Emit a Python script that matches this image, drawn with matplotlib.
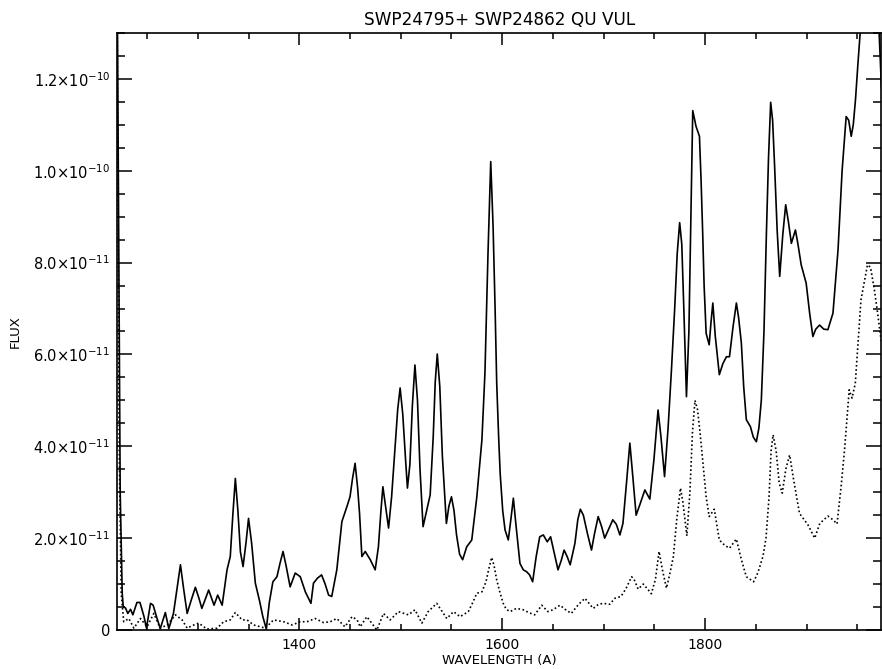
import matplotlib
matplotlib.use("Agg")
import matplotlib.pyplot as plt
from matplotlib.ticker import FixedLocator, MultipleLocator, FuncFormatter

# wavelength (A) and flux (units of 1e-11)
wave_solid = [
    1220.6, 1223.5, 1225.5, 1226.5, 1228.7, 1231, 1233.7, 1236, 1240, 1243, 1247, 1249.4,
    1253.4, 1256, 1259.3, 1263, 1268, 1271.4, 1276, 1279.5, 1282.9, 1286, 1289.5, 1293.5,
    1297.6, 1301, 1304, 1310.7, 1316, 1319.6, 1324, 1328.8, 1332, 1334.5, 1337, 1339.5,
    1342, 1344.6, 1347.5, 1350, 1353, 1356.7, 1361, 1364, 1367.5, 1370.5, 1374, 1378,
    1381, 1384, 1387, 1391, 1396, 1401, 1406, 1411.5, 1414, 1418, 1422, 1425.5, 1428.9,
    1432, 1437, 1442, 1447, 1450, 1452.5, 1455, 1457.5, 1459.4, 1461.7, 1465, 1470, 1474.8,
    1478, 1480.5, 1482.4, 1485, 1488, 1491, 1494.5, 1497, 1499.4, 1502, 1504.5, 1506.6,
    1509, 1511.5, 1514, 1516.5, 1519, 1522, 1525, 1529, 1532, 1534, 1536, 1538.5, 1541,
    1545, 1547.5, 1550, 1552.5, 1555, 1558, 1561, 1565, 1570, 1575, 1580, 1583, 1586,
    1588.7, 1591, 1593, 1594.6, 1596.5, 1598, 1600.5, 1602.8, 1606, 1608.5, 1611, 1613.5,
    1617.5, 1620.8, 1624, 1627, 1630, 1633.5, 1637, 1640.5, 1644.4, 1647.7, 1651, 1655,
    1658, 1661, 1664, 1667, 1671.7, 1674.5, 1677, 1680, 1684, 1688, 1691, 1694.6, 1698,
    1701, 1705, 1709, 1712.5, 1716, 1719, 1722.5, 1725.8, 1728.5, 1732, 1736, 1740.6,
    1745.5, 1749.5, 1753.6, 1756.5, 1760, 1763.5, 1766.8, 1770, 1772.5, 1774.9, 1777, 1779,
    1781.6, 1784, 1786, 1787.8, 1791, 1794.4, 1796, 1797.6, 1799, 1801, 1804, 1805.8,
    1807.6, 1810, 1814, 1817.5, 1821, 1824, 1827.5, 1830.8, 1833, 1835.7, 1838, 1840.6,
    1844.6, 1847.5, 1850.5, 1853, 1855.4, 1858, 1860.4, 1862.5, 1864.6, 1866.5, 1868.5,
    1871, 1873.5, 1876.5, 1879.4, 1882, 1885, 1889, 1891.5, 1894.7, 1899.6, 1903, 1906.2,
    1909, 1912.8, 1917, 1921, 1926, 1931, 1935, 1939, 1941.5, 1944, 1946, 1948.2, 1950.5,
    1952.8, 1956, 1962, 1968, 1971.5, 1973.8,
]
flux_solid = [
    14.0, 3.0, 0.8, 0.51, 0.48, 0.36, 0.45, 0.33, 0.6, 0.6, 0.29, 0.04,
    0.58, 0.54, 0.29, 0.03, 0.38, 0.03, 0.36, 0.9, 1.42, 0.9, 0.36, 0.65,
    0.93, 0.7, 0.47, 0.87, 0.54, 0.76, 0.54, 1.31, 1.6, 2.5, 3.3, 2.6,
    1.7, 1.38, 1.9, 2.43, 1.9, 1.02, 0.62, 0.3, 0.02, 0.6, 1.05, 1.16,
    1.45, 1.71, 1.4, 0.94, 1.24, 1.16, 0.83, 0.58, 1.02, 1.13, 1.2, 1.0, 0.76,
    0.73, 1.31, 2.36, 2.69, 2.9, 3.3, 3.63, 3.1, 2.54, 1.6, 1.71, 1.53, 1.31,
    1.81, 2.6, 3.12, 2.7, 2.22, 2.9, 3.99, 4.8, 5.27, 4.7, 3.8, 3.09,
    3.6, 4.9, 5.77, 5.0, 3.5, 2.25, 2.55, 2.94, 4.2, 5.4, 6.01, 5.3, 3.8,
    2.32, 2.7, 2.9, 2.6, 2.07, 1.65, 1.53, 1.81, 1.96, 2.9, 4.14, 5.6, 8.2,
    10.2, 8.8, 7.0, 5.37, 4.2, 3.41, 2.6, 2.18, 1.96, 2.4, 2.87, 2.3,
    1.45, 1.31, 1.27, 1.2, 1.05, 1.6, 2.03, 2.07, 1.92, 2.03, 1.7, 1.31,
    1.5, 1.74, 1.6, 1.42, 1.89, 2.4, 2.63, 2.5, 2.1, 1.74, 2.1, 2.47, 2.25,
    2.0, 2.2, 2.4, 2.3, 2.07, 2.32, 3.2, 4.07, 3.4, 2.5, 2.75, 3.05,
    2.85, 3.7, 4.79, 4.2, 3.34, 4.4, 5.66, 7.0, 8.2, 8.87, 8.4, 7.0,
    5.08, 6.5, 9.0, 11.31, 10.97, 10.75, 9.8, 8.64, 7.5, 6.46, 6.21, 6.7,
    7.12, 6.4, 5.56, 5.8, 5.95, 5.95, 6.6, 7.12, 6.8, 6.25, 5.3, 4.58,
    4.43, 4.2, 4.10, 4.4, 5.01, 6.5, 8.64, 10.3, 11.49, 11.1, 10.09,
    8.7, 7.70, 8.6, 9.26, 8.9, 8.42, 8.71, 8.4, 7.95, 7.55, 6.9, 6.39,
    6.55, 6.64, 6.55, 6.54, 6.90, 8.28, 10.0, 11.18, 11.1, 10.75, 11.0, 11.55, 12.3,
    13.0, 13.8, 14.3, 13.8, 13.0, 11.8,
]

wave_dot = [
    1220.6, 1222.5, 1224.5, 1227, 1232, 1237, 1243.5, 1250, 1256.6, 1263, 1269.8, 1278,
    1284.5, 1289.5, 1295, 1300.9, 1309, 1319, 1325.5, 1332, 1337, 1343.6, 1348.5, 1355,
    1366.5, 1374.7, 1384.5, 1393, 1401, 1407.6, 1415.7, 1424, 1430.5, 1437, 1445, 1452,
    1457, 1460, 1466.6, 1476.5, 1483, 1489.6, 1497.7, 1507.6, 1514, 1520.8, 1527, 1535.5,
    1545.4, 1552, 1558.5, 1566.6, 1571, 1575, 1580, 1584, 1587, 1589.6, 1592, 1594.6,
    1598, 1601, 1604, 1607.7, 1614, 1620.8, 1626, 1632, 1639, 1645, 1650, 1657, 1662,
    1668, 1675, 1681.5, 1689.7, 1695, 1699.5, 1706, 1711, 1717, 1722, 1727.5, 1730,
    1734, 1739, 1743, 1747, 1751, 1754.6, 1758, 1761.9, 1765, 1768.7, 1772, 1775.7,
    1778, 1782, 1785, 1787.5, 1790, 1792.5, 1795, 1798, 1801, 1804, 1809, 1814, 1819,
    1824, 1830.8, 1835.5, 1840.6, 1847.8, 1852, 1857, 1860, 1863, 1865, 1867, 1870,
    1873, 1876, 1879.5, 1883.3, 1887, 1893, 1901.3, 1908, 1913, 1921, 1926, 1930,
    1934, 1937.4, 1942, 1944.8, 1948, 1953.6, 1960, 1963, 1966.8, 1970, 1973.8,
]
flux_dot = [
    13.0, 4.0, 0.8, 0.18, 0.25, 0.04, 0.25, 0.07, 0.36, 0.04, 0.11, 0.33,
    0.22, 0.04, 0.1, 0.15, 0.02, 0.04, 0.18, 0.22, 0.38, 0.22, 0.22, 0.11,
    0.04, 0.22, 0.18, 0.11, 0.18, 0.18, 0.25, 0.16, 0.18, 0.25, 0.07, 0.29,
    0.22, 0.07, 0.29, 0.0, 0.36, 0.22, 0.40, 0.33, 0.44, 0.15, 0.40, 0.58,
    0.25, 0.40, 0.29, 0.40, 0.6, 0.80, 0.83, 1.05, 1.35, 1.58, 1.4, 1.09,
    0.80, 0.58, 0.45, 0.40, 0.47, 0.44, 0.38, 0.33, 0.54, 0.40, 0.44, 0.54, 0.45,
    0.36, 0.55, 0.69, 0.47, 0.56, 0.58, 0.56, 0.69, 0.73, 0.9, 1.16, 1.1,
    0.89, 1.0, 0.9, 0.79, 1.1, 1.71, 1.3, 0.91, 1.2, 1.6, 2.4, 3.09,
    2.8, 2.05, 3.0, 4.3, 5.0, 4.8, 4.3, 3.6, 2.9, 2.47, 2.63, 1.96, 1.85,
    1.78, 1.98, 1.55, 1.16, 1.05, 1.25, 1.6, 2.0, 2.9, 3.9, 4.25, 3.9,
    3.2, 2.98, 3.5, 3.81, 3.3, 2.54, 2.29, 2.0, 2.32, 2.48, 2.4, 2.31,
    3.12, 3.92, 5.23, 5.05, 5.37, 7.19, 7.95, 7.9, 7.41, 6.9, 6.25,
]

x_major = [1400, 1600, 1800]
y_major = [0, 2e-11, 4e-11, 6e-11, 8e-11, 1.0e-10, 1.2e-10]
title = "SWP24795+ SWP24862 QU VUL"


def flux_label(v, pos):
    if abs(v) < 1e-20:
        return "0"
    exp = int(f"{v:.1e}".split("e")[1])
    mant = v / 10 ** exp
    return r"$\mathregular{%.1f{\times}10^{%d}}$" % (mant, exp)


def main():
    fig = plt.figure(figsize=(8.82, 6.69), dpi=100)
    ax = fig.add_axes([0.1327, 0.0583, 0.8667, 0.8924])

    ax.plot(wave_solid, [f * 1e-11 for f in flux_solid], color="black", lw=1.2)
    ax.plot(wave_dot, [f * 1e-11 for f in flux_dot], color="black", lw=1.2,
            linestyle=(0, (1, 1.5)))

    ax.set_xlim(1220.4, 1973.8)
    ax.set_ylim(0, 1.3e-10)

    ax.xaxis.set_major_locator(FixedLocator(x_major))
    ax.xaxis.set_minor_locator(MultipleLocator(50))
    ax.yaxis.set_major_locator(FixedLocator(y_major))
    ax.yaxis.set_minor_locator(MultipleLocator(5e-12))
    ax.yaxis.set_major_formatter(FuncFormatter(flux_label))

    ax.tick_params(which="both", direction="in", top=True, right=True, width=1.1)
    ax.tick_params(axis="x", which="major", length=8.5, pad=6, labelsize=10)
    ax.tick_params(axis="x", which="minor", length=4.5)
    ax.tick_params(axis="y", which="major", length=10.5, pad=5, labelsize=10.5)
    ax.tick_params(axis="y", which="minor", length=5.5)
    for sp in ax.spines.values():
        sp.set_linewidth(1.2)

    ax.set_title(title, fontsize=12.2, pad=6)
    ax.set_xlabel("WAVELENGTH (A)", fontsize=9.5, labelpad=1)
    ax.set_ylabel("FLUX", fontsize=9.5, labelpad=8)

    fig.savefig("out.png", dpi=100)


if __name__ == "__main__":
    main()
